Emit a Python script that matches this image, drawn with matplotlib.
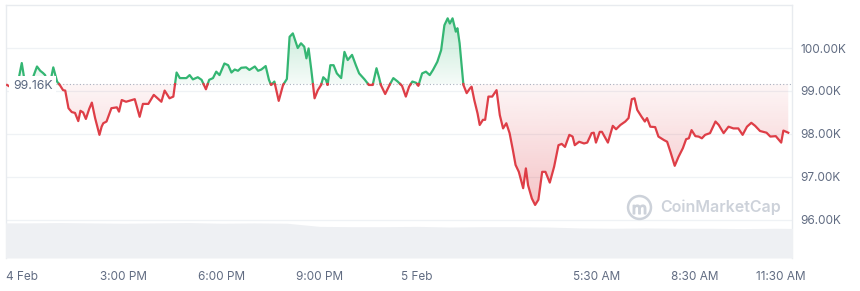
import matplotlib
matplotlib.use("Agg")
import matplotlib.pyplot as plt
import matplotlib.dates as mdates
import matplotlib.transforms as mtransforms
from matplotlib.colors import to_rgb
from matplotlib.path import Path
import numpy as np
import pandas as pd

# BTC price (thousands USD), 4 Feb 11:25 -> 5 Feb 11:23
times_feb4 = [
    "11:25", "11:34", "11:42", "11:47", "11:52", "11:56", "12:04", "12:11", "12:20", "12:26",
    "12:31", "12:35", "12:40", "12:46", "12:50", "12:57", "13:02", "13:08", "13:12", "13:18",
    "13:24", "13:30", "13:36", "13:40", "13:45", "13:50", "13:56", "14:01", "14:07", "14:15",
    "14:19", "14:22", "14:28", "14:37", "14:47", "14:51", "14:56", "15:04", "15:20", "15:29",
    "15:35", "15:45", "15:55", "16:09", "16:15", "16:24", "16:31", "16:37", "16:43", "16:55",
    "17:01", "17:07", "17:16", "17:23", "17:31", "17:37", "17:44", "17:50", "17:56", "18:05",
    "18:12", "18:18", "18:24", "18:30", "18:36", "18:45", "18:51", "19:01", "19:07", "19:13",
    "19:21", "19:27", "19:31", "19:37", "19:45", "19:53", "20:00", "20:05", "20:11", "20:20",
    "20:26", "20:32", "20:36", "20:40", "20:45", "20:51", "20:57", "21:03", "21:07", "21:12",
    "21:15", "21:20", "21:26", "21:32", "21:40", "21:46", "21:52", "22:00", "22:07", "22:13",
    "22:23", "22:31", "22:38", "22:45", "22:50", "22:53", "23:01", "23:09", "23:16", "23:24",
    "23:32", "23:39", "23:45", "23:51", "23:58",
]
times_feb5 = [
    "00:02", "00:09", "00:16", "00:23", "00:29", "00:37", "00:44", "00:50", "00:56", "01:00",
    "01:05", "01:11", "01:14", "01:18", "01:25", "01:31", "01:37", "01:40", "01:45", "01:51",
    "01:55", "02:01", "02:05", "02:11", "02:18", "02:26", "02:32", "02:38", "02:44", "02:50",
    "02:56", "03:01", "03:07", "03:15", "03:20", "03:24", "03:31", "03:37", "03:43", "03:50",
    "03:56", "04:04", "04:12", "04:20", "04:26", "04:32", "04:40", "04:46", "04:50", "04:58",
    "05:07", "05:13", "05:21", "05:25", "05:29", "05:36", "05:40", "05:51", "06:00", "06:06",
    "06:14", "06:23", "06:29", "06:35", "06:40", "06:45", "06:53", "06:59", "07:03", "07:09",
    "07:18", "07:24", "07:34", "07:40", "07:46", "07:54", "08:01", "08:09", "08:15", "08:20",
    "08:25", "08:32", "08:38", "08:44", "08:50", "08:59", "09:09", "09:15", "09:24", "09:33",
    "09:42", "09:51", "09:59", "10:07", "10:15", "10:22", "10:31", "10:43", "10:50", "11:00",
    "11:10", "11:14", "11:23",
]
prices_k = [
    99.14, 99.07, 99.16, 99.33, 99.65, 99.33, 99.12, 99.26, 99.57, 99.47,
    99.42, 99.37, 99.12, 99.30, 99.55, 99.22, 99.14, 99.02, 99.01, 98.60,
    98.51, 98.49, 98.30, 98.54, 98.50, 98.35, 98.58, 98.73, 98.37, 97.98,
    98.17, 98.25, 98.29, 98.60, 98.62, 98.52, 98.79, 98.75, 98.81, 98.40,
    98.70, 98.70, 98.91, 98.75, 99.01, 98.83, 98.87, 99.43, 99.30, 99.30,
    99.37, 99.27, 99.32, 99.26, 99.04, 99.26, 99.30, 99.45, 99.37, 99.64,
    99.60, 99.43, 99.50, 99.47, 99.54, 99.55, 99.49, 99.57, 99.47, 99.50,
    99.58, 99.26, 99.14, 99.22, 98.77, 99.14, 99.28, 100.26, 100.34, 100.00,
    100.11, 100.03, 99.76, 99.99, 99.49, 98.83, 99.02, 99.14, 99.32, 99.26,
    99.14, 99.60, 99.60, 99.41, 99.30, 99.91, 99.72, 99.84, 99.60, 99.41,
    99.27, 99.14, 99.14, 99.53, 99.30, 99.14, 98.93, 99.14, 99.30, 99.22,
    99.12, 98.87, 99.10, 99.22, 99.19,
    # 5 Feb
    99.12, 99.41, 99.45, 99.37, 99.49, 99.68, 99.95, 100.53, 100.69, 100.57,
    100.69, 100.38, 100.46, 100.11, 99.14, 98.95, 99.06, 99.10, 98.79, 98.48,
    98.21, 98.33, 98.33, 98.87, 98.87, 99.02, 98.44, 98.13, 98.25, 98.02,
    97.63, 97.28, 97.12, 96.74, 97.20, 96.81, 96.50, 96.35, 96.47, 97.12,
    97.12, 96.87, 97.24, 97.74, 97.77, 97.70, 97.98, 97.94, 97.74, 97.82,
    97.78, 97.80, 98.02, 98.03, 97.80, 98.05, 98.05, 97.80, 98.19, 98.11,
    98.21, 98.29, 98.37, 98.81, 98.83, 98.56, 98.40, 98.29, 98.37, 98.17,
    98.16, 97.94, 97.86, 97.82, 97.59, 97.26, 97.47, 97.67, 97.88, 97.90,
    98.09, 97.95, 97.94, 97.90, 97.98, 98.02, 98.29, 98.21, 98.02, 98.17,
    98.13, 98.13, 97.98, 98.17, 98.26, 98.19, 98.07, 98.03, 97.94, 97.95,
    97.80, 98.08, 98.03,
]
open_price_k = 99.16

# hourly volume (relative), drawn as the grey band at the bottom
volume_start = "2025-02-04 11:00"
volume = [1.11, 1.11, 1.12, 1.11, 1.10, 1.11, 1.12, 1.10, 1.11, 1.10,
          1.00, 0.99, 0.99, 1.00, 0.98, 0.99, 0.99, 0.98,
          0.95, 0.94, 0.95, 0.94, 0.94, 0.93, 0.94, 0.93]

tick_times = ["2025-02-04 12:00", "2025-02-04 15:00", "2025-02-04 18:00", "2025-02-04 21:00",
              "2025-02-05 00:00", "2025-02-05 05:30", "2025-02-05 08:30", "2025-02-05 11:30"]
tick_labels = ["4 Feb", "3:00 PM", "6:00 PM", "9:00 PM", "5 Feb", "5:30 AM", "8:30 AM", "11:30 AM"]
price_ticks = [96, 97, 98, 99, 100]

GREEN = "#34b673"
RED = "#de3e47"
LABEL = "#616c82"


def split_at_base(x, y, base):
    # add points where the line crosses the base so colours switch cleanly
    xs, ys = [x[0]], [y[0]]
    for i in range(1, len(x)):
        y0, y1 = y[i - 1], y[i]
        if (y0 - base) * (y1 - base) < 0:
            t = (base - y0) / (y1 - y0)
            xs.append(x[i - 1] + t * (x[i] - x[i - 1]))
            ys.append(base)
        xs.append(x[i])
        ys.append(y1)
    return np.array(xs), np.array(ys)


def gradient_fill(ax, x, y, base, color, above):
    where = y >= base if above else y <= base
    coll = ax.fill_between(x, y, base, where=where, facecolor="none", edgecolor="none")
    clip = Path.make_compound_path(*coll.get_paths())
    lo, hi = (base, y.max()) if above else (y.min(), base)
    alpha = np.linspace(0.05, 0.30, 100)
    if not above:
        alpha = alpha[::-1]
    img = np.zeros((100, 1, 4))
    img[..., :3] = to_rgb(color)
    img[:, 0, 3] = alpha
    im = ax.imshow(img, extent=[x.min(), x.max(), lo, hi], origin="lower",
                   aspect="auto", zorder=1, interpolation="bilinear")
    im.set_clip_path(clip, transform=ax.transData)


plt.rcParams["font.family"] = ["Inter", "DejaVu Sans"]

times = pd.to_datetime(["2025-02-04 " + t for t in times_feb4] +
                       ["2025-02-05 " + t for t in times_feb5])
x = mdates.date2num(times)
y = np.array(prices_k)
xs, ys = split_at_base(x, y, open_price_k)

fig = plt.figure(figsize=(8.6, 2.91), dpi=100)
ax = fig.add_axes([0.007, 0.1134, 0.914, 0.8694])
xmin = mdates.date2num(pd.Timestamp("2025-02-04 11:23"))
xmax = mdates.date2num(pd.Timestamp("2025-02-05 11:30"))

# volume band (twin axis first, so the price labels stay on the right)
ax2 = ax.twinx()
vt = mdates.date2num(pd.date_range(volume_start, periods=len(volume), freq="h"))
ax2.fill_between(vt, volume, 0, color="#eef0f3", lw=0)
ax2.set_ylim(0, 8)
ax2.set_xlim(xmin, xmax)
ax2.set_yticks([])
for s in ax2.spines.values():
    s.set_visible(False)

gradient_fill(ax, xs, ys, open_price_k, GREEN, True)
gradient_fill(ax, xs, ys, open_price_k, RED, False)
ax.plot(xs, np.where(ys >= open_price_k, ys, np.nan), color=GREEN, lw=1.6, zorder=3,
        solid_joinstyle="round")
ax.plot(xs, np.where(ys <= open_price_k, ys, np.nan), color=RED, lw=1.6, zorder=3,
        solid_joinstyle="round")
ax.axhline(open_price_k, color="#a9b1bf", lw=0.8, ls=(0, (1, 2)), zorder=2)
ax.annotate(f"{open_price_k:.2f}K", xy=(0, open_price_k), xycoords=("axes fraction", "data"),
            xytext=(7, -1.5), textcoords="offset pixels", ha="left", va="center",
            fontsize=8.8, color="#58667e", zorder=10,
            bbox=dict(boxstyle="square,pad=0.3", fc="white", ec="none"))

ax.set_xlim(xmin, xmax)
ax.set_ylim(95.116, 101.0)

ax.set_yticks(price_ticks)
ax.set_yticklabels([f"{v:.2f}K" for v in price_ticks])
ax.yaxis.tick_right()
ax.set_xticks(mdates.date2num(pd.to_datetime(tick_times)))
ax.set_xticklabels(tick_labels)
ax.tick_params(axis="both", length=0, labelsize=8.5, labelcolor=LABEL)
ax.tick_params(axis="y", pad=6)
ax.tick_params(axis="x", pad=9)
ax.grid(axis="y", color="#eff2f5", lw=0.9, zorder=0)
ax.set_axisbelow(True)
for side in ["top", "left", "right"]:
    ax.spines[side].set_color("#e8ebef")
    ax.spines[side].set_linewidth(1)
ax.spines["bottom"].set_visible(False)

# first and last date labels are nudged inward, as in the widget
xlabels = ax.get_xticklabels()
for lbl, dx in [(xlabels[0], -4), (xlabels[-1], -11)]:
    lbl.set_transform(lbl.get_transform() +
                      mtransforms.ScaledTranslation(dx / 100, 0, fig.dpi_scale_trans))

# watermark
ax.plot([0.805], [0.2016], transform=ax.transAxes, marker="o", ms=16.5, mfc="none",
        mec="#cdd2da", mew=1.8, zorder=4)
ax.plot([0.805], [0.195], transform=ax.transAxes, marker=r"$\mathsf{m}$", ms=9,
        color="#cdd2da", zorder=4)
ax.text(0.832, 0.2016, "CoinMarketCap", transform=ax.transAxes, ha="left", va="center",
        fontsize=11.5, fontweight="semibold", color="#cdd2da", zorder=4)

fig.savefig("out.png", dpi=100, facecolor="white")
